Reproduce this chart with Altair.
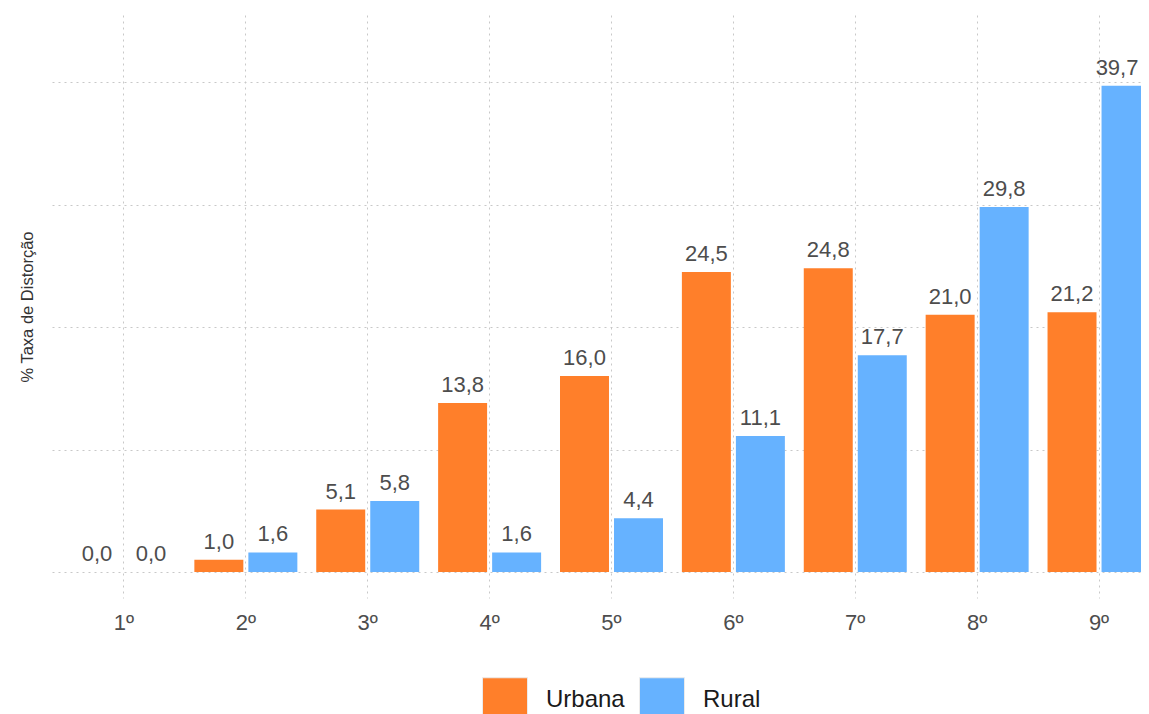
import altair as alt
import pandas as pd

series_order = ["Urbana", "Rural"]
cats = ["1º", "2º", "3º", "4º", "5º", "6º", "7º", "8º", "9º"]
urbana = [0.0, 1.0, 5.1, 13.8, 16.0, 24.5, 24.8, 21.0, 21.2]
rural = [0.0, 1.6, 5.8, 1.6, 4.4, 11.1, 17.7, 29.8, 39.7]
colors = ["#FF7F2A", "#66B2FF"]
y_ticks = [0, 10, 20, 30, 40]

rows = []
for c, u, r in zip(cats, urbana, rural):
    rows.append({"serie": "Urbana", "ano": c, "valor": u})
    rows.append({"serie": "Rural", "ano": c, "valor": r})
df = pd.DataFrame(rows)
df["ultimo"] = (df["ano"] == cats[-1]) & (df["serie"] == series_order[-1])

FONT = "Liberation Sans"

x = alt.X(
    "ano:N",
    sort=cats,
    title=None,
    scale=alt.Scale(range=[0, 1119], paddingInner=0.155, paddingOuter=0.168),
    axis=alt.Axis(
        labelAngle=0,
        labelFontSize=22,
        labelColor="#4d4d4d",
        labelFont=FONT,
        labelPadding=14,
        labelBaseline="top",
        ticks=False,
        domain=False,
        grid=True,
        gridDash=[2, 4],
        gridColor="#c8c8c8",
        gridWidth=1,
        bandPosition=0.5,
    ),
)
xo = alt.XOffset(
    "serie:N",
    sort=series_order,
    scale=alt.Scale(domain=series_order, paddingInner=0.093, paddingOuter=0),
)
y = alt.Y(
    "valor:Q",
    scale=alt.Scale(domain=[-2.12, 45.47], nice=False, zero=False),
    axis=alt.Axis(
        values=y_ticks,
        labels=False,
        ticks=False,
        domain=False,
        grid=True,
        gridDash=[2, 4],
        gridColor="#c8c8c8",
        gridWidth=1,
        title="% Taxa de Distorção",
        titleFont=FONT,
        titleFontSize=16.5,
        titleFontWeight="normal",
        titleColor="#333333",
        titleAngle=-90,
        titleX=-25,
        titleY=291.5,
        titleAlign="center",
        titleBaseline="middle",
    ),
)

bars = alt.Chart(df).mark_bar().encode(
    x=x,
    xOffset=xo,
    y=y,
    y2=alt.datum(0),
    color=alt.Color(
        "serie:N",
        sort=series_order,
        scale=alt.Scale(domain=series_order, range=colors),
        legend=alt.Legend(
            title=None,
            orient="none",
            legendX=430,
            legendY=662,
            direction="horizontal",
            symbolType="square",
            symbolSize=2025,
            symbolStrokeColor="#ebebeb",
            symbolStrokeWidth=1,
            symbolOpacity=1,
            labelFont=FONT,
            labelFontSize=24,
            labelColor="#1a1a1a",
            labelOffset=18,
            columnPadding=12,
        ),
    ),
)

label_base = alt.Chart(df).transform_calculate(
    rotulo="replace(format(datum.valor, '.1f'), '.', ',')"
)
label_enc = dict(
    x=alt.X("ano:N", sort=cats),
    xOffset=alt.XOffset("serie:N", sort=series_order),
    y=alt.Y("valor:Q"),
    text="rotulo:N",
)
labels = label_base.transform_filter("!datum.ultimo").mark_text(
    baseline="alphabetic", align="center", dy=-11, fontSize=22, font=FONT, color="#4d4d4d"
).encode(**label_enc)
labels_last = label_base.transform_filter("datum.ultimo").mark_text(
    baseline="alphabetic", align="center", dx=-9, dy=-11, fontSize=22, font=FONT, color="#4d4d4d"
).encode(**label_enc)

chart = (
    alt.layer(bars, labels, labels_last)
    .properties(
        width=1089,
        height=583,
        autosize=alt.AutoSizeParams(type="none"),
        padding={"left": 44, "top": 7, "right": 0, "bottom": 116},
        background="white",
    )
    .configure_view(strokeWidth=0, stroke="transparent")
)

chart.save("out.html", embed_options={"renderer": "svg", "actions": False})
